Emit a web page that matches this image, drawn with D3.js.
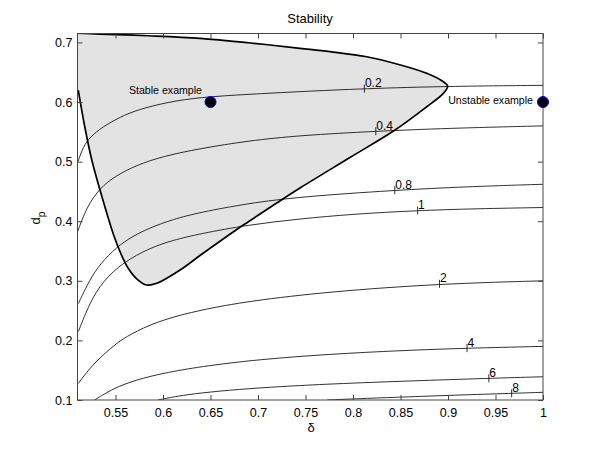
<!DOCTYPE html>
<html>
<head>
<meta charset="utf-8">
<script src="https://cdn.jsdelivr.net/npm/d3@7"></script>
<style>
  html, body { margin: 0; padding: 0; background: #fff; }
  svg { display: block; font-family: "Liberation Sans", Arial, Helvetica, sans-serif; }
</style>
</head>
<body>
<svg id="chart" width="600" height="451"></svg>
<script>
// ---- data ----
const xTicks = [0.55, 0.6, 0.65, 0.7, 0.75, 0.8, 0.85, 0.9, 0.95, 1];
const yTicks = [0.1, 0.2, 0.3, 0.4, 0.5, 0.6, 0.7];

// contour lines: [delta, d_p]
const contour_0_2 = [[0.5105,0.500],[0.516,0.525],[0.523,0.541],[0.537,0.559],[0.555,0.575],[0.573,0.587],[0.605,0.600],[0.639,0.608],[0.69,0.613],[0.744,0.6175],[0.812,0.6225],[0.9,0.6265],[1,0.628]];
const contour_0_4 = [[0.5098,0.381],[0.5197,0.424],[0.5337,0.456],[0.55,0.476],[0.572,0.494],[0.60,0.509],[0.639,0.522],[0.69,0.535],[0.744,0.544],[0.824,0.551],[0.9,0.556],[1,0.560]];
const contour_0_8 = [[0.511,0.262],[0.5232,0.303],[0.5337,0.328],[0.5513,0.357],[0.5683,0.375],[0.5863,0.389],[0.61,0.403],[0.639,0.415],[0.69,0.430],[0.744,0.441],[0.844,0.452],[0.92,0.458],[1,0.462]];
const contour_1 = [[0.511,0.215],[0.523,0.264],[0.537,0.300],[0.558,0.331],[0.586,0.355],[0.61,0.368],[0.639,0.379],[0.69,0.394],[0.744,0.404],[0.8,0.412],[0.868,0.418],[0.93,0.421],[1,0.423]];
const contour_2 = [[0.511,0.128],[0.522,0.152],[0.537,0.176],[0.553,0.198],[0.572,0.216],[0.60,0.235],[0.639,0.251],[0.69,0.266],[0.776,0.282],[0.891,0.295],[1,0.300]];
const contour_4 = [[0.528,0.1],[0.5477,0.1196],[0.572,0.134],[0.60,0.145],[0.639,0.156],[0.70,0.168],[0.776,0.177],[0.850,0.183],[0.920,0.187],[1,0.190]];
const contour_6 = [[0.5947,0.1],[0.615,0.1065],[0.639,0.1118],[0.68,0.118],[0.723,0.1225],[0.776,0.127],[0.86,0.132],[0.943,0.1364],[1,0.139]];
const contour_8 = [[0.773,0.1],[0.81,0.1025],[0.8495,0.1048],[0.91,0.1083],[0.9677,0.1112],[1,0.1129]];

const contourLevels = ["0.2", "0.4", "0.8", "1", "2", "4", "6", "8"];
const labelDelta = [0.812, 0.824, 0.844, 0.868, 0.891, 0.920, 0.943, 0.967];
const labelDp = [0.6225, 0.551, 0.452, 0.418, 0.295, 0.187, 0.1364, 0.1112];

// stability boundary
const boundary = [[0.505,0.716],[0.5337,0.7141],[0.585,0.7112],[0.6389,0.7069],[0.69,0.6995],[0.7442,0.6901],[0.7758,0.6845],[0.8144,0.6760],[0.8500,0.6621],[0.8776,0.6482],[0.8951,0.6341],[0.8997,0.6268],[0.8951,0.6146],[0.8776,0.5921],[0.8442,0.5530],[0.7968,0.5069],[0.7442,0.4557],[0.7197,0.4305],[0.6895,0.3987],[0.6776,0.3861],[0.6389,0.3424],[0.6179,0.3181],[0.5934,0.2958],[0.5828,0.2930],[0.5726,0.3030],[0.5632,0.3215],[0.5558,0.3450],[0.5484,0.3752],[0.5411,0.4121],[0.5337,0.4523],[0.5253,0.5010],[0.5179,0.5564],[0.5108,0.6201]];

const exampleNames = ["Stable example", "Unstable example"];
const exampleDelta = [0.65, 1.0];
const exampleDp = [0.6, 0.6];

// ---- drawing ----
const svg = d3.select("#chart");
const L = 77.5, R = 543, T = 33.5, B = 400;
const x = d3.scaleLinear().domain([0.51, 1]).range([L, R]);
const y = d3.scaleLinear().domain([0.1, 0.715]).range([B, T]);

svg.append("defs").append("clipPath").attr("id", "clip")
  .append("rect").attr("x", L).attr("y", T).attr("width", R - L).attr("height", B - T);

const plot = svg.append("g").attr("clip-path", "url(#clip)");

const bLine = d3.line().x(d => x(d[0])).y(d => y(d[1])).curve(d3.curveCatmullRom.alpha(0.5));
const fillD = bLine(boundary) +
  `L${x(0.49)},${y(0.62)}L${x(0.49)},${y(0.73)}L${x(0.505)},${y(0.73)}Z`;
plot.append("path").attr("d", fillD).attr("fill", "#e3e3e3").attr("stroke", "none");

const cLine = d3.line().x(d => x(d[0])).y(d => y(d[1])).curve(d3.curveBasis);
const contours = [contour_0_2, contour_0_4, contour_0_8, contour_1, contour_2, contour_4, contour_6, contour_8];
plot.selectAll("path.contour").data(contours).enter().append("path")
  .attr("class", "contour")
  .attr("d", cLine)
  .attr("fill", "none").attr("stroke", "#1a1a1a").attr("stroke-width", 0.9);

plot.append("path").attr("d", bLine(boundary))
  .attr("fill", "none").attr("stroke", "#000").attr("stroke-width", 1.7);

// contour labels
const lbl = svg.append("g");
contourLevels.forEach((t, i) => {
  const px = x(labelDelta[i]), py = y(labelDp[i]);
  lbl.append("line").attr("x1", px).attr("x2", px).attr("y1", py - 4).attr("y2", py + 4)
    .attr("stroke", "#1a1a1a").attr("stroke-width", 0.9);
  lbl.append("text").attr("x", px + 0.5).attr("y", py - 1.5)
    .attr("font-size", 12).attr("fill", "#000").text(t);
});

// axes
const axColor = "#444";
const gx = svg.append("g").attr("transform", `translate(0,${B})`)
  .call(d3.axisBottom(x).tickValues(xTicks).tickFormat(d3.format("")).tickSizeInner(-5).tickSizeOuter(0).tickPadding(8));
const gxt = svg.append("g").attr("transform", `translate(0,${T})`)
  .call(d3.axisTop(x).tickValues(xTicks).tickFormat("").tickSizeInner(-5).tickSizeOuter(0));
const gy = svg.append("g").attr("transform", `translate(${L},0)`)
  .call(d3.axisLeft(y).tickValues(yTicks).tickFormat(d3.format("")).tickSizeInner(-5).tickSizeOuter(0).tickPadding(5));
const gyr = svg.append("g").attr("transform", `translate(${R},0)`)
  .call(d3.axisRight(y).tickValues(yTicks).tickFormat("").tickSizeInner(-5).tickSizeOuter(0));
[gx, gxt, gy, gyr].forEach(g => {
  g.select(".domain").remove();
  g.selectAll(".tick line").attr("stroke", axColor);
  g.selectAll(".tick text").attr("font-size", 12.5).attr("fill", "#000")
    .attr("font-family", '"Liberation Sans", Arial, Helvetica, sans-serif');
});
svg.append("rect").attr("x", L).attr("y", T).attr("width", R - L).attr("height", B - T)
  .attr("fill", "none").attr("stroke", axColor).attr("stroke-width", 1);

// example points
const ex = svg.append("g");
exampleNames.forEach((n, i) => {
  ex.append("circle").attr("cx", x(exampleDelta[i])).attr("cy", y(exampleDp[i])).attr("r", 5.5)
    .attr("fill", "#000").attr("stroke", "#0000ff").attr("stroke-width", 1);
});
ex.append("text").attr("x", x(exampleDelta[0]) - 8.5).attr("y", y(exampleDp[0]) - 8)
  .attr("text-anchor", "end").attr("font-size", 10.6).text(exampleNames[0]);
ex.append("text").attr("x", x(exampleDelta[1]) - 10).attr("y", y(exampleDp[1]) + 2)
  .attr("text-anchor", "end").attr("font-size", 10.6).text(exampleNames[1]);

// titles
svg.append("text").attr("x", 310).attr("y", 23).attr("text-anchor", "middle")
  .attr("font-size", 13).text("Stability");
svg.append("text").attr("x", 311).attr("y", 432).attr("text-anchor", "middle")
  .attr("font-size", 13).text("δ");
const yl = svg.append("text").attr("transform", "translate(40,218) rotate(-90)")
  .attr("text-anchor", "middle").attr("font-size", 13);
yl.append("tspan").text("d");
yl.append("tspan").attr("dy", 5).attr("font-size", 10).text("p");
</script>
</body>
</html>
